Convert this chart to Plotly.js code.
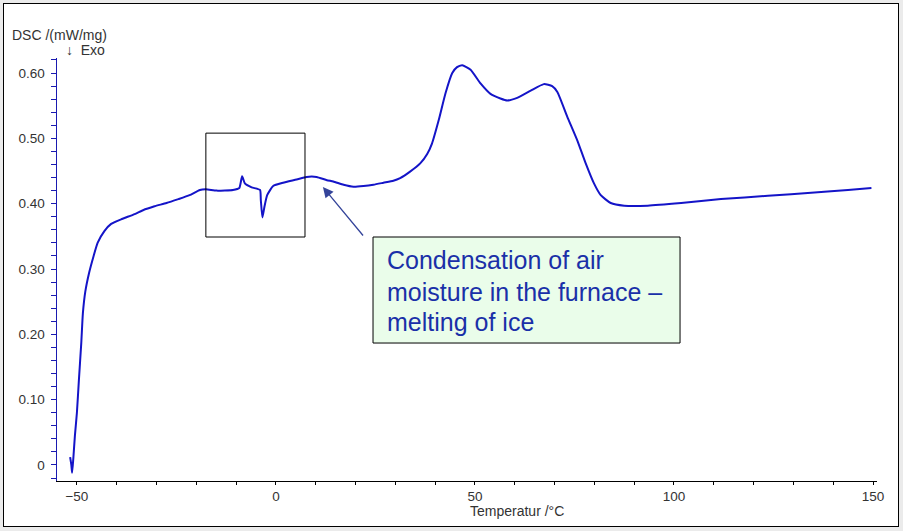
<!DOCTYPE html>
<html>
<head>
<meta charset="utf-8">
<script src="https://cdn.plot.ly/plotly-3.0.1.min.js"></script>
<style>
  html, body { margin: 0; padding: 0; background: #ebebeb; width: 903px; height: 531px; overflow: hidden; }
  #frame { position: absolute; left: 3px; top: 3px; width: 894px; height: 522px; border: 1px solid #000; background: #fff; }
  #chart { width: 894px; height: 522px; }
</style>
</head>
<body>
<div id="frame"><div id="chart"></div></div>
<script>
// Temperature (°C)
const temperature = [
  -51.7, -51.4, -51.2, -50.9, -50.5, -50.0, -49.5, -48.9, -48.5, -47.9,
  -46.9, -45.8, -44.8, -43.1, -41.4, -38.9, -35.5, -33.4, -30.5, -27.5,
  -24.5, -21.7, -19.1, -17.6, -14.9, -10.8, -9.2, -8.5, -7.8, -6.1,
  -4.0, -3.8, -3.4, -2.9, -2.2, -0.7, 1.8, 5.2, 7.7, 10.2,
  12.8, 14.4, 17.0, 19.5, 22.0, 24.5, 27.0, 29.5, 31.2, 33.7,
  36.3, 38.0, 39.2, 40.9, 42.6, 44.3, 45.5, 46.8, 48.9, 51.4,
  53.9, 56.4, 58.1, 60.6, 64.0, 67.3, 69.4, 70.7, 73.2, 75.7,
  77.8, 79.9, 81.6, 84.1, 87.5, 93.4, 101.8, 111.8, 123.6, 135.3,
  143.7, 149.6
];
// DSC signal (mW/mg)
const dsc = [
  0.012, 0.000, -0.012, 0.010, 0.045, 0.080, 0.130, 0.187, 0.232, 0.265,
  0.295, 0.320, 0.340, 0.358, 0.369, 0.376, 0.384, 0.390, 0.396, 0.401,
  0.407, 0.413, 0.421, 0.422, 0.420, 0.421, 0.424, 0.442, 0.431, 0.425,
  0.421, 0.406, 0.379, 0.395, 0.413, 0.427, 0.432, 0.437, 0.441, 0.441,
  0.436, 0.434, 0.429, 0.426, 0.427, 0.429, 0.432, 0.435, 0.439, 0.449,
  0.462, 0.476, 0.492, 0.528, 0.569, 0.600, 0.609, 0.612, 0.605, 0.584,
  0.568, 0.561, 0.558, 0.562, 0.573, 0.583, 0.580, 0.571, 0.533, 0.497,
  0.462, 0.431, 0.413, 0.401, 0.397, 0.397, 0.401, 0.407, 0.412, 0.417,
  0.421, 0.424
];
const yTickVals = [0, 0.1, 0.2, 0.3, 0.4, 0.5, 0.6];
const yTickText = ['0', '0.10', '0.20', '0.30', '0.40', '0.50', '0.60'];
const xTickVals = [-50, 0, 50, 100, 150];
const noteLines = ['Condensation of air', 'moisture in the furnace –', 'melting of ice'];

const tickFont = { family: 'Liberation Sans, Arial, sans-serif', size: 13.5, color: '#333333' };
const titleFont = { family: 'Liberation Sans, Arial, sans-serif', size: 14, color: '#333333' };
const noteFont = { family: 'Liberation Sans, Arial, sans-serif', size: 25, color: '#1a30a8' };

const trace = {
  x: temperature, y: dsc, type: 'scatter', mode: 'lines',
  line: { color: '#1414c8', width: 2, shape: 'spline', smoothing: 0.5 },
  hoverinfo: 'skip'
};

const notePixelY = [260, 292, 322];
const noteAnnotations = noteLines.map((t, i) => ({
  xref: 'paper', yref: 'paper', x: 0.4, y: (481 - notePixelY[i]) / 423,
  xanchor: 'left', yanchor: 'middle', align: 'left', text: t, showarrow: false, font: noteFont
}));

const layout = {
  width: 894, height: 522,
  margin: { l: 53, r: 21, t: 54, b: 45 },
  paper_bgcolor: '#ffffff', plot_bgcolor: '#ffffff',
  showlegend: false,
  font: tickFont,
  xaxis: {
    range: [-55, 151], tickvals: xTickVals, ticks: 'outside', ticklen: 3, tickcolor: '#000',
    showline: true, linecolor: '#000', linewidth: 1, showgrid: false, zeroline: false,
    tickfont: tickFont, ticklabelstandoff: 0,
    minor: { dtick: 10, tick0: 0, ticks: 'outside', ticklen: 3, tickcolor: '#000', showgrid: false }
  },
  yaxis: {
    range: [-0.0245, 0.623], tickvals: yTickVals, ticktext: yTickText, ticks: 'outside', ticklen: 5,
    tickcolor: '#1a1ab0', showline: true, linecolor: '#1a1ab0', linewidth: 1.5, showgrid: false, zeroline: false,
    tickfont: tickFont, ticklabelstandoff: 3,
    minor: { dtick: 0.02, tick0: 0, ticks: 'outside', ticklen: 5, tickcolor: '#1a1ab0', showgrid: false }
  },
  shapes: [
    { type: 'rect', xref: 'x', yref: 'y', x0: -17.6, x1: 7.3, y0: 0.349, y1: 0.508,
      line: { color: '#000', width: 1 }, fillcolor: 'rgba(0,0,0,0)' },
    { type: 'rect', xref: 'paper', yref: 'paper', x0: 0.3854, x1: 0.7598, y0: 0.3262, y1: 0.5768,
      line: { color: '#000', width: 1 }, fillcolor: '#eafdea', layer: 'above' }
  ],
  annotations: [
    { xref: 'paper', yref: 'paper', x: -0.0573, y: 1.054, xanchor: 'left', yanchor: 'middle',
      text: 'DSC /(mW/mg)', showarrow: false, font: titleFont },
    { xref: 'paper', yref: 'paper', x: 0.0085, y: 1.019, xanchor: 'left', yanchor: 'middle',
      text: '↓  Exo', showarrow: false, font: titleFont },
    { xref: 'paper', yref: 'paper', x: 0.501, y: -0.0705, xanchor: 'left', yanchor: 'middle',
      text: 'Temperatur /°C', showarrow: false, font: titleFont },
    { xref: 'x', yref: 'y', x: 11.8, y: 0.4255, axref: 'x', ayref: 'y', ax: 22.2, ay: 0.349,
      text: '', showarrow: true, arrowhead: 2, arrowsize: 1.6, arrowwidth: 1.3, arrowcolor: '#34449a' }
  ].concat(noteAnnotations)
};

Plotly.newPlot('chart', [trace], layout, { displayModeBar: false, staticPlot: true });
</script>
</body>
</html>
